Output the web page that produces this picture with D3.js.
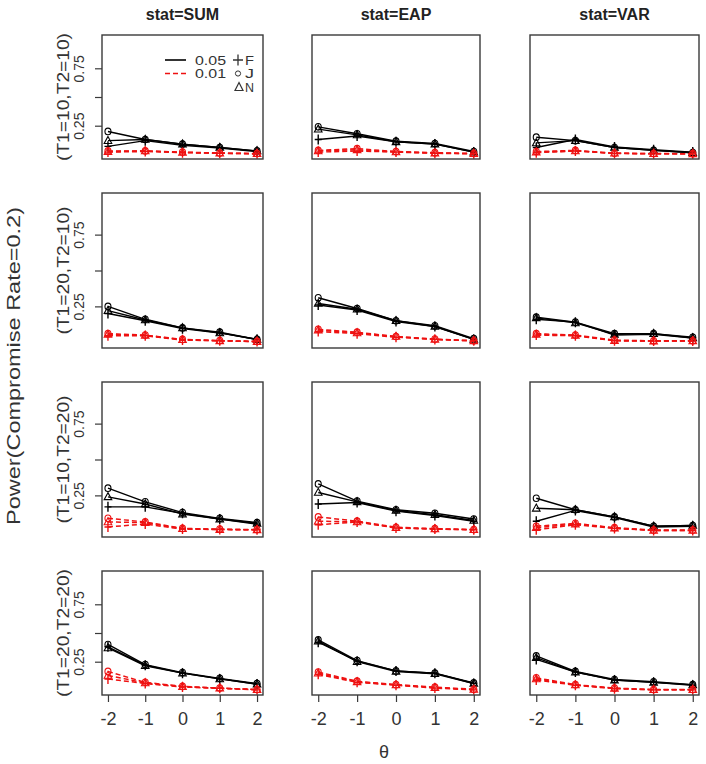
<!DOCTYPE html>
<html><head><meta charset="utf-8">
<script src="https://cdn.jsdelivr.net/npm/d3@7"></script>
<style>body{margin:0;background:#fff}svg{display:block}text{font-family:"Liberation Sans",Arial,sans-serif}</style>
</head><body>
<svg id="chart" width="706" height="764"></svg>
<script>
// ---------- data ----------
const theta = [-2, -1, 0, 1, 2];
const stats = ["SUM", "EAP", "VAR"];
const conditions = ["(T1=10,T2=10)", "(T1=20,T2=10)", "(T1=10,T2=20)", "(T1=20,T2=20)"];
const methods = ["F", "J", "N"];
const alphas = ["0.05", "0.01"];
const yTicks = [0.25, 0.5, 0.75];
const yTickLabels = ["0.25", "", "0.75"];
const xTicks = [-2, -1, 0, 1, 2];
const yLabel = "Power(Compromise Rate=0.2)";
const xLabel = "θ";

// power at alpha = 0.05, [condition][method F,J,N][theta]
const power05_SUM = [
  [[0.07,0.12,0.08,0.055,0.025],[0.20,0.13,0.09,0.06,0.03],[0.12,0.13,0.09,0.06,0.03]],
  [[0.20,0.15,0.095,0.065,0.02],[0.25,0.16,0.10,0.07,0.02],[0.22,0.155,0.10,0.065,0.02]],
  [[0.17,0.17,0.125,0.085,0.05],[0.30,0.205,0.13,0.09,0.06],[0.24,0.19,0.12,0.085,0.055]],
  [[0.38,0.22,0.15,0.10,0.055],[0.40,0.225,0.155,0.105,0.06],[0.37,0.215,0.15,0.10,0.055]]
];
const power05_EAP = [
  [[0.13,0.16,0.11,0.09,0.02],[0.24,0.18,0.115,0.095,0.025],[0.22,0.17,0.11,0.09,0.02]],
  [[0.26,0.225,0.145,0.11,0.02],[0.31,0.235,0.15,0.115,0.025],[0.27,0.23,0.15,0.11,0.02]],
  [[0.19,0.20,0.14,0.11,0.07],[0.33,0.21,0.15,0.125,0.085],[0.27,0.205,0.145,0.115,0.075]],
  [[0.42,0.255,0.17,0.15,0.06],[0.44,0.26,0.17,0.15,0.065],[0.43,0.25,0.165,0.145,0.06]]
];
const power05_VAR = [
  [[0.06,0.13,0.065,0.04,0.02],[0.15,0.12,0.06,0.035,0.015],[0.10,0.12,0.06,0.035,0.015]],
  [[0.16,0.14,0.05,0.055,0.03],[0.175,0.14,0.06,0.06,0.035],[0.17,0.135,0.055,0.06,0.03]],
  [[0.07,0.145,0.095,0.03,0.035],[0.23,0.15,0.10,0.035,0.04],[0.16,0.15,0.10,0.035,0.04]],
  [[0.27,0.16,0.09,0.07,0.045],[0.30,0.165,0.095,0.075,0.05],[0.285,0.16,0.09,0.07,0.048]]
];
// power at alpha = 0.01
const power01_SUM = [
  [[0.02,0.025,0.015,0.01,0.005],[0.03,0.03,0.02,0.012,0.008],[0.025,0.03,0.018,0.01,0.006]],
  [[0.045,0.045,0.015,0.01,0.005],[0.06,0.05,0.02,0.012,0.006],[0.055,0.048,0.018,0.01,0.005]],
  [[0.03,0.05,0.015,0.012,0.01],[0.09,0.065,0.02,0.015,0.012],[0.065,0.06,0.018,0.012,0.01]],
  [[0.10,0.06,0.03,0.018,0.005],[0.165,0.07,0.035,0.02,0.008],[0.13,0.065,0.033,0.02,0.006]]
];
const power01_EAP = [
  [[0.02,0.03,0.02,0.01,0.005],[0.035,0.05,0.025,0.015,0.008],[0.03,0.04,0.022,0.012,0.006]],
  [[0.075,0.06,0.035,0.02,0.01],[0.09,0.07,0.04,0.022,0.01],[0.085,0.065,0.04,0.02,0.01]],
  [[0.045,0.065,0.022,0.015,0.01],[0.10,0.07,0.028,0.018,0.012],[0.07,0.065,0.025,0.016,0.011]],
  [[0.14,0.07,0.045,0.02,0.005],[0.16,0.08,0.05,0.028,0.01],[0.15,0.075,0.048,0.025,0.008]]
];
const power01_VAR = [
  [[0.015,0.03,0.008,0.005,0.005],[0.025,0.035,0.01,0.008,0.006],[0.02,0.03,0.01,0.006,0.005]],
  [[0.05,0.045,0.01,0.008,0.008],[0.06,0.05,0.015,0.01,0.01],[0.055,0.048,0.012,0.008,0.01]],
  [[0.01,0.045,0.02,0.005,0.005],[0.035,0.055,0.025,0.008,0.008],[0.025,0.05,0.022,0.006,0.006]],
  [[0.09,0.045,0.015,0.005,0.005],[0.11,0.05,0.02,0.008,0.008],[0.10,0.048,0.018,0.006,0.006]]
];

// ---------- layout ----------
const powerByAlpha = {
  "0.05": {SUM: power05_SUM, EAP: power05_EAP, VAR: power05_VAR},
  "0.01": {SUM: power01_SUM, EAP: power01_EAP, VAR: power01_VAR}
};
const colX = [[102, 263], [312, 480], [530, 699]];
const rowY = [[35, 159], [193, 348], [382, 537], [571, 695]];
const alphaStyle = {"0.05": {color: "#000", dash: null, w: 1.4}, "0.01": {color: "#ee1111", dash: "5,3", w: 1.5}};

const svg = d3.select("#chart");
const FONT = '"Liberation Sans",Arial,sans-serif';

function marker(g, m, x, y, color) {
  if (m === "F") {
    g.append("path").attr("d", `M${x-3.5},${y}H${x+3.5}M${x},${y-5}V${y+5}`)
      .attr("stroke", color).attr("stroke-width", 1.4).attr("fill", "none");
  } else if (m === "J") {
    g.append("ellipse").attr("cx", x).attr("cy", y).attr("rx", 3).attr("ry", 3.3)
      .attr("stroke", color).attr("stroke-width", 1.1).attr("fill", "none");
  } else {
    g.append("path").attr("d", `M${x},${y-4.2}L${x+3.8},${y+2.8}L${x-3.8},${y+2.8}Z`)
      .attr("stroke", color).attr("stroke-width", 1.1).attr("fill", "none");
  }
}

rowY.forEach(([y0, y1], ri) => {
  const y = d3.scaleLinear().domain([-0.04, 1.04]).range([y1, y0]);
  colX.forEach(([x0, x1], ci) => {
    const x = d3.scaleLinear().domain([-2.16, 2.16]).range([x0, x1]);
    const g = svg.append("g");
    alphas.forEach(a => {
      const st = alphaStyle[a];
      const data = powerByAlpha[a][stats[ci]][ri];
      methods.forEach((m, mi) => {
        const vals = data[mi];
        const line = d3.line().x((d, i) => x(theta[i])).y(d => y(d));
        g.append("path").attr("d", line(vals)).attr("fill", "none")
          .attr("stroke", st.color).attr("stroke-width", st.w)
          .attr("stroke-dasharray", st.dash);
        vals.forEach((v, i) => marker(g, m, x(theta[i]), y(v), st.color));
      });
    });
    // box
    g.append("rect").attr("x", x0).attr("y", y0).attr("width", x1 - x0).attr("height", y1 - y0)
      .attr("fill", "none").attr("stroke", "#3a3a3a").attr("stroke-width", 1.4);

    if (ci === 0) {
      const ax = svg.append("g").attr("transform", `translate(${x0},0)`)
        .call(d3.axisLeft(y).tickValues(yTicks).tickSize(7).tickFormat((d, i) => yTickLabels[i]));
      ax.select(".domain").remove();
      ax.selectAll(".tick line").attr("stroke", "#3a3a3a").attr("stroke-width", 1.2);
      ax.selectAll(".tick text").attr("x", null).attr("dy", null).attr("y", null)
        .attr("transform", "translate(-18,0) rotate(-90)").attr("text-anchor", "middle")
        .attr("font-size", 14).attr("font-family", FONT).attr("fill", "#333");
      svg.append("text").attr("transform", `translate(69,${(y0 + y1) / 2}) rotate(-90)`)
        .attr("text-anchor", "middle").attr("font-size", 16.5).attr("fill", "#333")
        .attr("textLength", 128).attr("lengthAdjust", "spacingAndGlyphs")
        .text(conditions[ri]);
    }
    if (ri === rowY.length - 1) {
      const ax = svg.append("g").attr("transform", `translate(0,${y1})`)
        .call(d3.axisBottom(x).tickValues(xTicks).tickSize(7).tickSizeOuter(0).tickFormat(d => d));
      ax.select(".domain").remove();
      ax.selectAll(".tick line").attr("stroke", "#3a3a3a").attr("stroke-width", 1.2);
      ax.selectAll(".tick text").attr("y", 30).attr("dy", null)
        .attr("font-size", 18).attr("font-family", FONT).attr("fill", "#333");
    }
    if (ri === 0) {
      svg.append("text").attr("x", (x0 + x1) / 2).attr("y", 20).attr("text-anchor", "middle")
        .attr("font-size", 16).attr("font-weight", "bold").attr("fill", "#222")
        .text("stat=" + stats[ci]);
    }
  });
});

// axis titles
svg.append("text").attr("transform", "translate(20,366) rotate(-90)").attr("text-anchor", "middle")
  .attr("font-size", 18).attr("fill", "#333")
  .attr("textLength", 318).attr("lengthAdjust", "spacingAndGlyphs").text(yLabel);
svg.append("text").attr("x", 384).attr("y", 758).attr("text-anchor", "middle")
  .attr("font-size", 18).attr("fill", "#333").text(xLabel);

// legend (panel 1)
const lg = svg.append("g");
alphas.forEach((a, i) => {
  const st = alphaStyle[a];
  const yy = 60 + i * 13.5;
  lg.append("line").attr("x1", 165).attr("x2", 186).attr("y1", yy).attr("y2", yy)
    .attr("stroke", st.color).attr("stroke-width", 1.6).attr("stroke-dasharray", st.dash);
  lg.append("text").attr("x", 195).attr("y", yy + 4.5).attr("font-size", 12).attr("fill", "#333")
    .attr("textLength", 31).attr("lengthAdjust", "spacingAndGlyphs").text(a);
});
const legY = [60, 73.5, 87];
methods.forEach((m, i) => {
  if (m === "F") {
    lg.append("path").attr("d", `M${233},${legY[i]}H${243}M${238},${legY[i]-5.5}V${legY[i]+5.5}`)
      .attr("stroke", "#333").attr("stroke-width", 1.3);
  } else if (m === "J") {
    lg.append("circle").attr("cx", 238).attr("cy", legY[i]).attr("r", 2.6)
      .attr("stroke", "#333").attr("fill", "none");
  } else {
    lg.append("path").attr("d", `M239,${legY[i]-4.5}L243,${legY[i]+3.5}L235,${legY[i]+3.5}Z`)
      .attr("stroke", "#333").attr("fill", "none").attr("stroke-width", 1.2);
  }
  lg.append("text").attr("x", 245).attr("y", legY[i] + 4.5).attr("font-size", 12).attr("fill", "#333")
    .attr("textLength", 9).attr("lengthAdjust", "spacingAndGlyphs").text(m);
});
</script>
</body></html>
